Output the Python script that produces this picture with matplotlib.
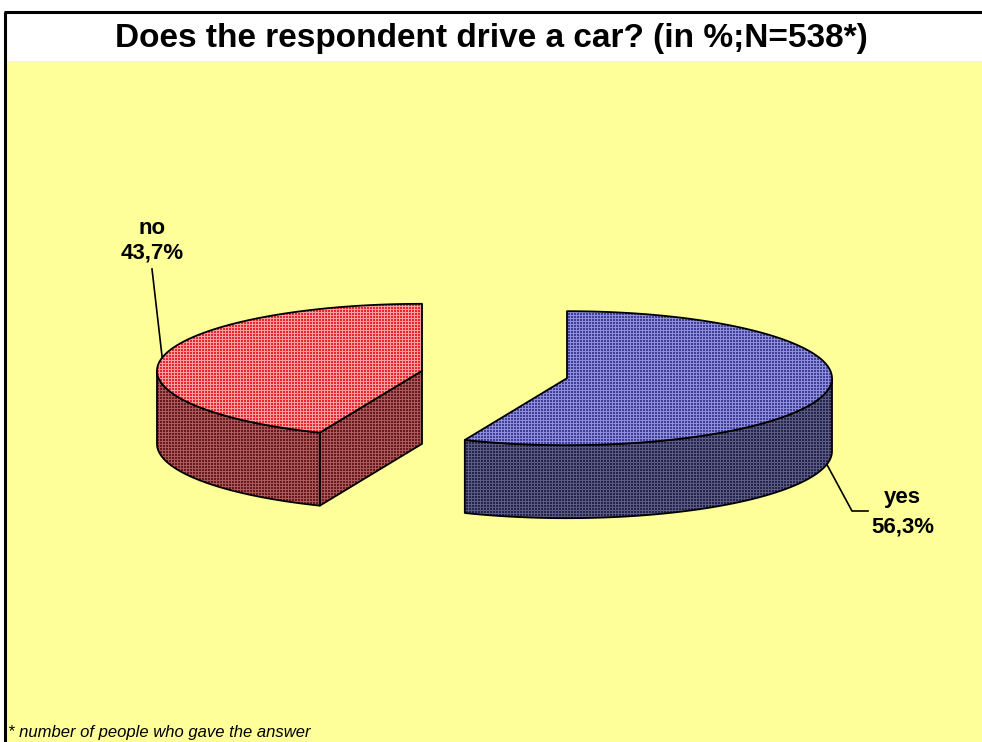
import numpy as np
import matplotlib
matplotlib.use("Agg")
import matplotlib.pyplot as plt
from matplotlib.patches import Polygon, Rectangle

# ---- data -------------------------------------------------------------
title = "Does the respondent drive a car? (in %;N=538*)"
footnote = "* number of people who gave the answer"
categories = ["yes", "no"]
shares = [56.3, 43.7]

# ---- styling ----------------------------------------------------------
W, H = 982, 742
BG_YELLOW = "#FFFF99"
# (base, light) pairs for the dithered fills
top_colors = {
    "yes": ((0.25, 0.25, 0.60), (0.56, 0.56, 0.86)),
    "no": ((0.92, 0.14, 0.18), (1.00, 0.62, 0.62)),
}
side_colors = {
    "yes": ((0.14, 0.14, 0.30), (0.36, 0.36, 0.52)),
    "no": ((0.42, 0.09, 0.11), (0.66, 0.36, 0.36)),
}

# pie geometry (pixel space)
CX0, CY0 = 494.5, 374.5
RX, RY = 265.0, 67.0
DEPTH = 73.0
EXPLODE = 0.279
START = 90.0

plt.rcParams["font.family"] = ["Liberation Sans", "DejaVu Sans"]

fig = plt.figure(figsize=(W / 100, H / 100), dpi=100)
ax = fig.add_axes([0, 0, 1, 1])
ax.set_xlim(0, W)
ax.set_ylim(H, 0)
ax.axis("off")

# background: yellow plot area, white title band, frame lines
ax.add_patch(Rectangle((0, 0), W, H, facecolor="white", edgecolor="none", zorder=0))
ax.add_patch(Rectangle((5, 61), W - 5, H - 61, facecolor=BG_YELLOW, edgecolor="none", zorder=0))
ax.plot([4, W], [12, 12], color="black", lw=2.2, zorder=10, solid_capstyle="butt")
ax.plot([5, 5], [12, H], color="black", lw=2.2, zorder=10, solid_capstyle="butt")

# dither texture
yy, xx = np.mgrid[0:H, 0:W]
grid_mask = (xx % 3 == 0) | (yy % 3 == 0)


def texture(base, light):
    img = np.empty((H, W, 3))
    img[:] = base
    img[grid_mask] = light
    return img


def pt(theta, cx, cy, z=0.0):
    t = np.deg2rad(theta)
    return cx + RX * np.cos(t), cy - RY * np.sin(t) + z


def arc(t0, t1, cx, cy, z=0.0, n=120):
    ts = np.linspace(t0, t1, n)
    return [pt(t, cx, cy, z) for t in ts]


def textured_face(verts, colors, zorder):
    poly = Polygon(verts, closed=True, facecolor="none", edgecolor="black",
                   lw=1.3, joinstyle="round", zorder=zorder + 0.5)
    ax.add_patch(poly)
    im = ax.imshow(texture(*colors), extent=(0, W, H, 0), interpolation="nearest",
                   zorder=zorder, aspect="auto")
    im.set_clip_path(poly)


slices = []
acc = 0.0
for cat, val in zip(categories, shares):
    t1 = START - acc * 3.6
    t2 = t1 - val * 3.6
    acc += val
    mid = (t1 + t2) / 2
    m = np.deg2rad(mid)
    cx = CX0 + EXPLODE * RX * np.cos(m)
    cy = CY0 - EXPLODE * RY * np.sin(m)
    slices.append((cat, val, t1, t2, mid, cx, cy))

# side walls and cut faces first
for cat, val, t1, t2, mid, cx, cy in slices:
    for k in range(-2, 3):
        lo = max(t2, -180 + 360 * k)
        hi = min(t1, 0 + 360 * k)
        if hi - lo > 1e-6:
            top = arc(lo, hi, cx, cy)
            bot = arc(hi, lo, cx, cy, DEPTH)
            textured_face(top + bot, side_colors[cat], 2)
    for edge, normal in ((t1, t1 + 90), (t2, t2 - 90)):
        if np.sin(np.deg2rad(normal)) < -1e-6:
            p_top = pt(edge, cx, cy)
            p_bot = pt(edge, cx, cy, DEPTH)
            verts = [(cx, cy), p_top, p_bot, (cx, cy + DEPTH)]
            textured_face(verts, side_colors[cat], 2)

# top faces
for cat, val, t1, t2, mid, cx, cy in slices:
    verts = [(cx, cy)] + arc(t1, t2, cx, cy)
    textured_face(verts, top_colors[cat], 4)

# data labels with leader lines
label_fmt = {c: f"{c}\n{v:.1f}%".replace(".", ",") for c, v in zip(categories, shares)}
lab = {s[0]: s for s in slices}
LABEL_FS = 16

_, _, _, _, mid_no, cx_no, cy_no = lab["no"]
x0, y0 = pt(mid_no, cx_no, cy_no)
ax.plot([x0, 152], [y0, 269], color="black", lw=1.2, zorder=6)
name, pct = label_fmt["no"].split("\n")
ax.text(152, 228, name, ha="center", va="center", fontsize=LABEL_FS, fontweight="bold", zorder=7)
ax.text(152, 253, pct, ha="center", va="center", fontsize=LABEL_FS, fontweight="bold", zorder=7)

_, _, _, _, mid_yes, cx_yes, cy_yes = lab["yes"]
x0, y0 = pt(mid_yes, cx_yes, cy_yes, DEPTH)
ax.plot([x0, 852, 868], [y0, 511, 511], color="black", lw=1.2, zorder=6)
name, pct = label_fmt["yes"].split("\n")
ax.text(902, 498, name, ha="center", va="center", fontsize=LABEL_FS, fontweight="bold", zorder=7)
ax.text(903, 527, pct, ha="center", va="center", fontsize=LABEL_FS, fontweight="bold", zorder=7)

# title and footnote
ax.text(491, 47, title, ha="center", va="baseline", fontsize=24, fontweight="bold", zorder=7)
ax.text(8, 737, footnote, ha="left", va="baseline", fontsize=12, fontstyle="italic", zorder=7)

fig.savefig("out.png", dpi=100)
